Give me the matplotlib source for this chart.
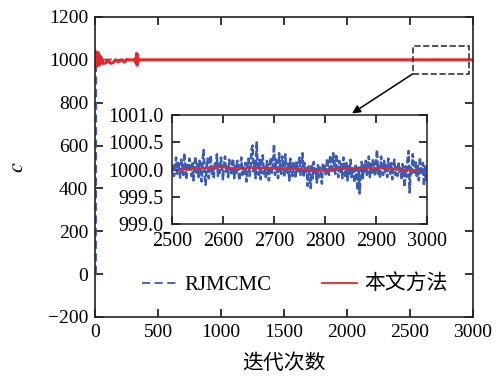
import numpy as np
import matplotlib
matplotlib.use("Agg")
import matplotlib.pyplot as plt
from matplotlib.patches import Rectangle

plt.rcParams['font.family'] = ['Liberation Serif', 'Noto Sans CJK SC']
plt.rcParams['mathtext.fontset'] = 'stix'
plt.rcParams['axes.unicode_minus'] = True

BLUE = '#3a5bb8'
RED = '#e8262a'

# ---- RJMCMC chain: burn-in part ----
rj_head_iter = [8, 10, 12, 16, 20, 30, 40, 60, 80, 100, 130, 160, 200, 250, 300, 350, 400, 1000, 2000, 2498]
rj_head_val = [0, 1000, 1008, 995, 1003, 998, 1002, 999, 1001, 1000, 1002, 999, 1001, 1000, 999, 1001, 1000, 1000, 1000, 1000]

# ---- RJMCMC chain: iterations 2500..3000 (every 2 iterations) ----
rj_tail_val = [
    999.95, 1000.10, 999.88, 1000.05, 1000.22, 999.92, 1000.15, 1000.02, 999.85, 1000.18,
    1000.08, 999.90, 1000.30, 1000.05, 999.82, 1000.12, 999.96, 1000.20, 1000.04, 999.88,
    1000.14, 999.80, 1000.06, 1000.24, 999.94, 1000.10, 999.86, 1000.16, 1000.00, 999.78,
    1000.18, 1000.36, 999.90, 999.72, 1000.08, 1000.20, 999.84, 1000.02, 1000.26, 999.92,
    1000.06, 999.86, 1000.14, 1000.00, 1000.28, 999.88, 1000.10, 999.94, 1000.22, 1000.04,
    999.82, 1000.12, 1000.24, 999.96, 1000.08, 999.86, 1000.18, 1000.02, 999.90, 1000.14,
    1000.20, 999.84, 1000.06, 999.94, 1000.16, 1000.00, 999.80, 1000.10, 1000.22, 999.90,
    1000.04, 999.92, 1000.12, 999.78, 1000.08, 1000.20, 999.88, 1000.02, 1000.36, 1000.44,
    999.96, 1000.14, 999.84, 1000.50, 1000.06, 999.90, 1000.18, 999.82, 1000.10, 1000.26,
    999.92, 1000.04, 999.86, 1000.16, 1000.00, 999.80, 1000.12, 1000.22, 999.94, 1000.08,
    1000.46, 999.90, 1000.18, 1000.02, 999.84, 1000.30, 1000.06, 999.92, 1000.24, 1000.10,
    999.86, 1000.28, 1000.04, 999.94, 1000.14, 999.80, 1000.20, 1000.02, 999.88, 1000.12,
    1000.00, 999.84, 1000.16, 999.96, 1000.08, 1000.22, 999.90, 1000.04, 1000.30, 999.86,
    1000.12, 999.92, 1000.02, 999.70, 1000.06, 999.88, 999.66, 1000.10, 999.84, 1000.14,
    999.90, 1000.00, 999.76, 1000.08, 999.86, 1000.04, 999.92, 999.74, 1000.12, 999.94,
    1000.06, 999.88, 1000.20, 1000.02, 999.90, 1000.26, 1000.08, 999.94, 1000.30, 1000.14,
    999.92, 1000.28, 1000.04, 999.86, 1000.16, 999.96, 1000.10, 999.84, 1000.22, 1000.00,
    999.88, 1000.12, 999.80, 1000.06, 999.92, 1000.18, 999.86, 1000.02, 999.94, 999.76,
    1000.10, 999.88, 999.62, 1000.04, 999.56, 999.90, 1000.14, 999.84, 1000.08, 999.96,
    1000.16, 999.90, 1000.02, 1000.24, 999.86, 1000.10, 999.94, 1000.20, 1000.04, 999.88,
    1000.14, 1000.36, 999.92, 1000.06, 999.84, 1000.24, 1000.02, 999.90, 1000.16, 999.96,
    1000.08, 999.86, 1000.20, 1000.00, 999.92, 1000.12, 999.82, 1000.06, 1000.18, 999.90,
    1000.04, 999.88, 1000.14, 999.96, 1000.02, 999.84, 1000.10, 999.92, 999.68, 1000.06,
    999.86, 1000.20, 1000.34, 999.58, 1000.04, 999.90, 1000.28, 1000.10, 999.94, 1000.16,
    999.88, 1000.06, 999.80, 1000.22, 1000.02, 999.90, 1000.12, 999.70, 1000.06, 999.78,
    1000.04,
]
rj_tail_iter = list(range(2500, 3001, 2))

# ---- proposed method ----
ours_iter = [0, 3, 6, 9, 12, 15, 18, 21, 24, 27, 30, 34, 38, 42, 46, 50, 55, 60, 70, 80,
             90, 100, 110, 120, 130, 140, 150, 160, 170, 180, 190, 200, 210, 220, 230, 240,
             250, 270, 290, 310, 320, 326, 330, 334, 338, 342, 346, 350, 360, 2500]
ours_val = [1040, 965, 1035, 975, 1030, 970, 1025, 980, 1035, 985, 1015, 975, 1020, 990,
            1012, 985, 1005, 985, 983, 985, 988, 1000, 995, 985, 984, 986, 990, 1000, 998,
            992, 992, 996, 1000, 998, 990, 992, 1002, 1000, 1000, 998, 1006, 985, 1030, 975,
            1025, 990, 1000, 1000, 1000, 1000]
ours_tail_iter = [2515, 2540, 2570, 2600, 2630, 2660, 2700, 2740, 2770, 2790, 2820, 2850,
                  2880, 2910, 2930, 2960, 2985, 3000]
ours_tail_val = [999.99, 1000.01, 1000.03, 1000.04, 1000.02, 1000.03, 1000.03, 1000.01,
                 1000.00, 999.98, 1000.01, 1000.02, 1000.02, 1000.03, 1000.01, 999.99,
                 999.98, 999.98]

x_ticks = [0, 500, 1000, 1500, 2000, 2500, 3000]
y_ticks = [-200, 0, 200, 400, 600, 800, 1000, 1200]
zoom_x_ticks = [2500, 2600, 2700, 2800, 2900, 3000]
zoom_y_ticks = [999.0, 999.5, 1000.0, 1000.5, 1001.0]

rj_iter = rj_head_iter + rj_tail_iter
rj_val = rj_head_val + rj_tail_val
ours_all_iter = ours_iter + ours_tail_iter
ours_all_val = ours_val + ours_tail_val

fig = plt.figure(figsize=(5.01, 3.81), dpi=100)
ax = fig.add_axes([0.1896, 0.168, 0.7545, 0.7874])

ax.plot(rj_iter, rj_val, ls='--', color=BLUE, lw=1.3, label='RJMCMC', dashes=(4.5, 2.5))
ax.plot(ours_all_iter, ours_all_val, color=RED, lw=2.2, label='本文方法')

ax.set_xlim(0, 3000)
ax.set_ylim(-200, 1200)
ax.set_xticks(x_ticks)
ax.set_yticks(y_ticks)
ax.tick_params(direction='in', top=True, right=True, length=6, width=1.1,
               labelsize=14, pad=5)
for s in ax.spines.values():
    s.set_linewidth(1.2)
    s.set_color('#222222')
ax.set_xlabel('迭代次数', fontsize=15, labelpad=10)
ax.set_ylabel('$c$', fontsize=16, labelpad=14)

leg = ax.legend(loc='center', bbox_to_anchor=(0.529, 0.107), ncol=2, frameon=False,
                fontsize=15, handlelength=1.7, columnspacing=2.4, handletextpad=0.35)
for h in leg.get_lines():
    h.set_linewidth(1.3)

# zoom window marker and arrow
ax.add_patch(Rectangle((2520, 934), 450, 132, fill=False, ls='--', lw=1.2,
                       edgecolor='#333333', zorder=5))
ax.annotate('', xy=(2040, 750), xytext=(2520, 934),
            arrowprops=dict(arrowstyle='-|>', color='black', lw=1.1,
                            mutation_scale=12, shrinkA=0, shrinkB=0))

# inset
axi = fig.add_axes([0.3433, 0.4121, 0.509, 0.286])
axi.plot(rj_tail_iter, rj_tail_val, ls='--', color=BLUE, lw=1.8, dashes=(2.5, 1.0))
axi.plot(ours_tail_iter[:-1], ours_tail_val[:-1], color=RED, lw=1.5)
axi.set_xlim(2500, 3000)
axi.set_ylim(999.0, 1001.0)
axi.set_xticks(zoom_x_ticks)
axi.set_yticks(zoom_y_ticks)
axi.set_yticklabels([f'{v:.1f}' for v in zoom_y_ticks])
axi.tick_params(direction='in', top=True, right=True, length=6, width=1.1,
                labelsize=14.5, pad=6)
for s in axi.spines.values():
    s.set_linewidth(1.1)
    s.set_color('#222222')

fig.savefig('out.png', dpi=100)
